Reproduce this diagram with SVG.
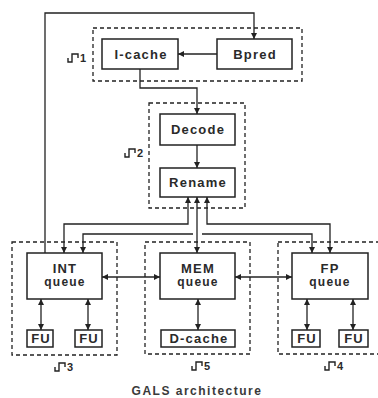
<svg xmlns="http://www.w3.org/2000/svg" width="378" height="398" viewBox="0 0 378 398">
<style>
.box{fill:#fff;stroke:#222;stroke-width:1.5}
.cl{fill:none;stroke:#222;stroke-width:1.3;stroke-dasharray:4 3}
.t{font-family:"Liberation Sans",Arial,sans-serif;font-weight:bold;font-size:13px;letter-spacing:1.2px;fill:#2a2a2a;text-anchor:middle}
.q{font-size:12px}
.c{fill:none;stroke:#222;stroke-width:1.3}
.p{fill:none;stroke:#222;stroke-width:1.4}
.d{font-family:"Liberation Sans",Arial,sans-serif;font-weight:bold;font-size:11px;fill:#2a2a2a}
.title{font-family:"Liberation Sans",Arial,sans-serif;font-weight:bold;font-size:12px;letter-spacing:1.5px;fill:#3a3a3a;text-anchor:middle}
</style>
<defs>
<marker id="a" markerUnits="userSpaceOnUse" markerWidth="6" markerHeight="6" refX="5" refY="2.5" orient="auto-start-reverse" viewBox="0 0 5 5">
<path d="M0,0 L5,2.5 L0,5 z" fill="#222"/>
</marker>
</defs>

<g id="cluster1"><rect class="cl" x="93" y="28" width="209" height="53"/>
<path class="p" d="M68,58 V62 H72 V54 H78 V58"/><text class="d" x="80" y="62">1</text></g>
<g id="cluster2"><rect class="cl" x="149" y="103" width="96" height="105"/>
<path class="p" d="M125,153 V157 H129 V149 H135 V153"/><text class="d" x="137" y="157">2</text></g>
<g id="cluster3"><rect class="cl" x="12" y="242" width="105" height="113"/>
<path class="p" d="M55,367 V371 H59 V363 H65 V367"/><text class="d" x="67" y="371">3</text></g>
<g id="cluster5"><rect class="cl" x="145" y="242" width="105" height="112"/>
<path class="p" d="M192,366 V370 H196 V362 H202 V366"/><text class="d" x="204" y="370">5</text></g>
<g id="cluster4"><rect class="cl" x="278" y="242" width="104" height="112"/>
<path class="p" d="M325,366 V370 H329 V362 H335 V366"/><text class="d" x="337" y="370">4</text></g>

<g id="connectors">
<path class="c" d="M45,253 V13 H254 V39" marker-end="url(#a)"/>
<path class="c" d="M217,54 H178" marker-end="url(#a)"/>
<path class="c" d="M140,69 V88 H197 V114" marker-end="url(#a)"/>
<path class="c" d="M197,145 V168" marker-end="url(#a)"/>
<path class="c" d="M188,197 V224 H64 V253" marker-start="url(#a)" marker-end="url(#a)"/>
<path class="c" d="M197,197 V253" marker-start="url(#a)" marker-end="url(#a)"/>
<path class="c" d="M207,197 V224 H330 V253" marker-start="url(#a)" marker-end="url(#a)"/>
<path class="c" d="M193,234 H83 V253" marker-end="url(#a)"/>
<path class="c" d="M202,234 H312 V253" marker-end="url(#a)"/>
<path class="c" d="M102,277 H160" marker-start="url(#a)" marker-end="url(#a)"/>
<path class="c" d="M235,277 H292" marker-start="url(#a)" marker-end="url(#a)"/>
<path class="c" d="M41,299 V330" marker-start="url(#a)" marker-end="url(#a)"/>
<path class="c" d="M88,299 V330" marker-start="url(#a)" marker-end="url(#a)"/>
<path class="c" d="M198,299 V330" marker-start="url(#a)" marker-end="url(#a)"/>
<path class="c" d="M307,299 V330" marker-start="url(#a)" marker-end="url(#a)"/>
<path class="c" d="M353,299 V330" marker-start="url(#a)" marker-end="url(#a)"/>
</g>

<g id="icache"><rect class="box" x="102" y="39" width="76" height="30"/><text class="t" x="141" y="59">I-cache</text></g>
<g id="bpred"><rect class="box" x="217" y="39" width="75" height="30"/><text class="t" x="255" y="59">Bpred</text></g>
<g id="decode"><rect class="box" x="160" y="114" width="75" height="31"/><text class="t" x="198" y="134">Decode</text></g>
<g id="rename"><rect class="box" x="160" y="168" width="75" height="29"/><text class="t" x="198" y="187">Rename</text></g>
<g id="intq"><rect class="box" x="27" y="253" width="75" height="46"/><text class="t" x="65" y="273">INT</text><text class="t q" x="65" y="286">queue</text></g>
<g id="memq"><rect class="box" x="160" y="253" width="75" height="46"/><text class="t" x="198" y="273">MEM</text><text class="t q" x="198" y="286">queue</text></g>
<g id="fpq"><rect class="box" x="292" y="253" width="76" height="46"/><text class="t" x="330" y="273">FP</text><text class="t q" x="330" y="286">queue</text></g>
<g id="fu1"><rect class="box" x="27" y="330" width="26" height="17"/><text class="t" x="41" y="343">FU</text></g>
<g id="fu2"><rect class="box" x="75" y="330" width="27" height="17"/><text class="t" x="89" y="343">FU</text></g>
<g id="dcache"><rect class="box" x="161" y="330" width="74" height="17"/><text class="t" x="199" y="343">D-cache</text></g>
<g id="fu3"><rect class="box" x="292" y="330" width="28" height="17"/><text class="t" x="307" y="343">FU</text></g>
<g id="fu4"><rect class="box" x="339" y="330" width="29" height="17"/><text class="t" x="354" y="343">FU</text></g>

<text class="title" x="197" y="395">GALS architecture</text>
</svg>
